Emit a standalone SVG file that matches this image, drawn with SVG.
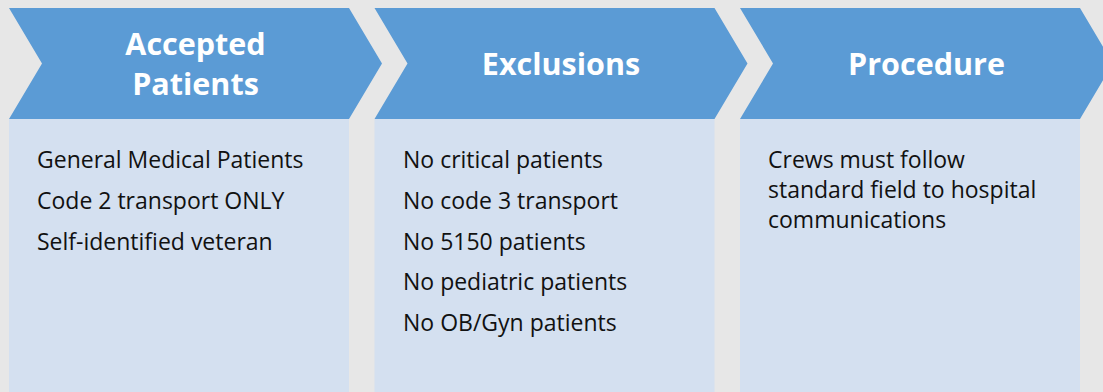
<svg xmlns="http://www.w3.org/2000/svg" width="1103" height="392" viewBox="0 0 1103 392">
<style>
.chev{fill:#5B9BD5;}
.box{fill:#D4E0F0;}
.title{font-family:"Open Sans","Liberation Sans",sans-serif;font-weight:bold;font-size:30.5px;fill:#FFFFFF;text-anchor:middle;}
.item{font-family:"Open Sans","Liberation Sans",sans-serif;font-size:23px;fill:#111111;}
</style>
<rect x="0" y="0" width="1103" height="392" fill="#E7E7E7"/>
<g id="node-accepted">
<rect class="box" x="9" y="119" width="340" height="273"/>
<polygon class="chev" points="9,8 349,8 382,63.5 349,119 9,119 42,63.5"/>
<text class="title" x="195.5" y="55">Accepted</text>
<text class="title" x="195.5" y="95">Patients</text>
<text class="item" x="37" y="168">General Medical Patients</text>
<text class="item" x="37" y="209">Code 2 transport ONLY</text>
<text class="item" x="37" y="250">Self-identified veteran</text>
</g>
<g id="node-exclusions">
<rect class="box" x="374.5" y="119" width="340" height="273"/>
<polygon class="chev" points="374.5,8 714.5,8 747.5,63.5 714.5,119 374.5,119 407.5,63.5"/>
<text class="title" x="561" y="75">Exclusions</text>
<text class="item" x="403" y="168">No critical patients</text>
<text class="item" x="403" y="209">No code 3 transport</text>
<text class="item" x="403" y="250">No 5150 patients</text>
<text class="item" x="403" y="290">No pediatric patients</text>
<text class="item" x="403" y="331">No OB/Gyn patients</text>
</g>
<g id="node-procedure">
<rect class="box" x="740" y="119" width="340" height="273"/>
<polygon class="chev" points="740,8 1080,8 1113,63.5 1080,119 740,119 773,63.5"/>
<text class="title" x="926.5" y="75">Procedure</text>
<text class="item" x="768" y="168">Crews must follow</text>
<text class="item" x="768" y="198">standard field to hospital</text>
<text class="item" x="768" y="228">communications</text>
</g>
<g id="connectors"></g>
</svg>
